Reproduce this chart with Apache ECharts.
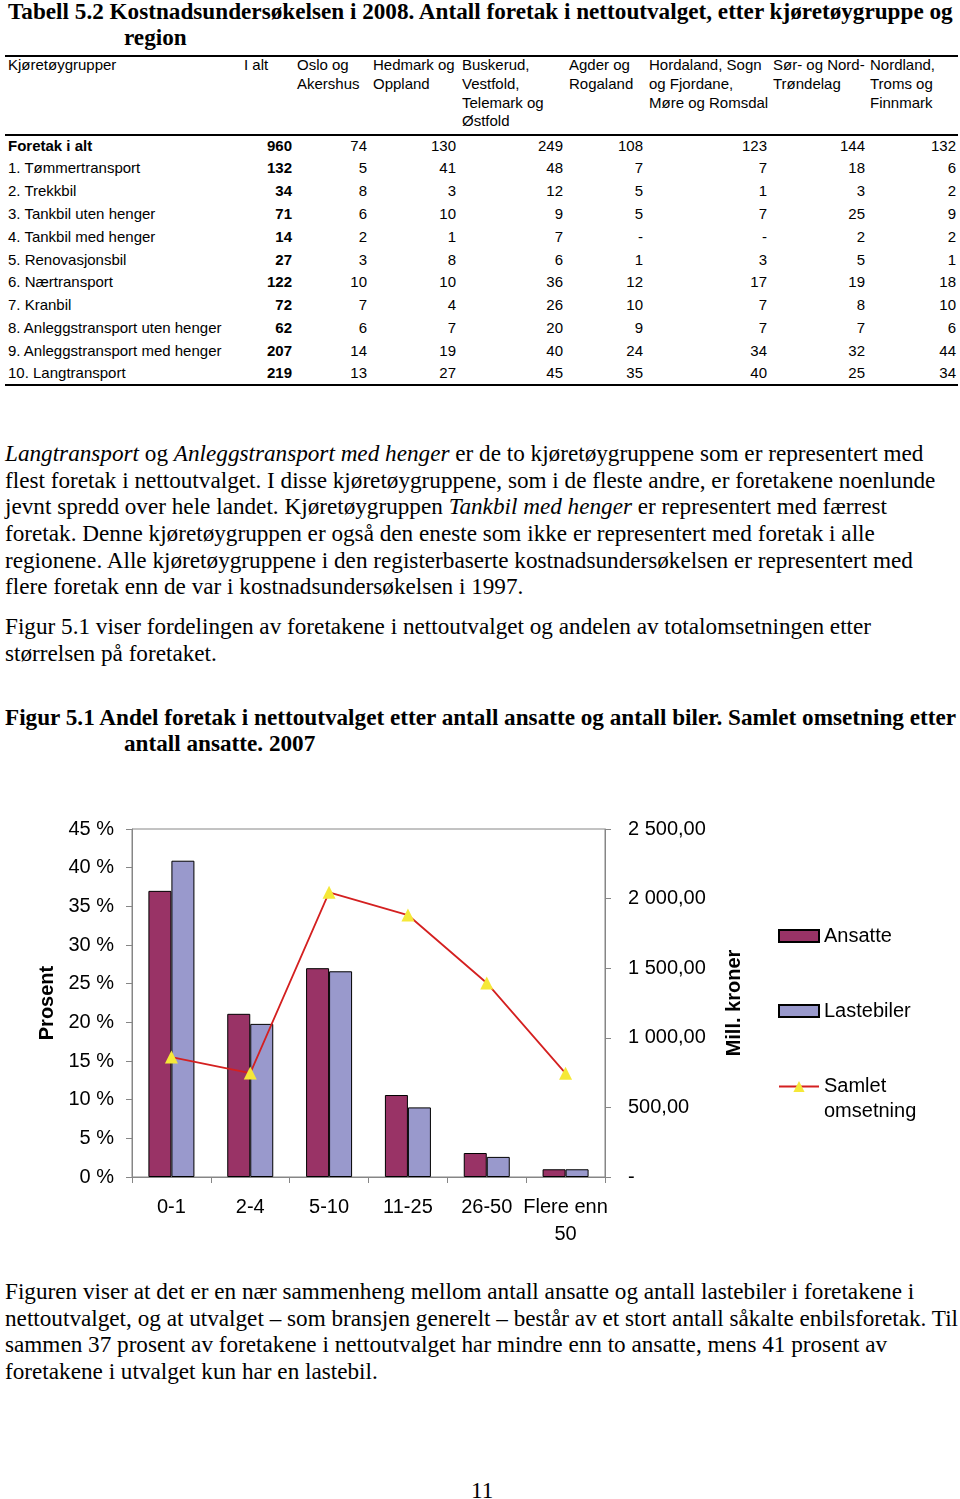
<!DOCTYPE html>
<html><head><meta charset="utf-8">
<script src="https://cdn.jsdelivr.net/npm/echarts@6/dist/echarts.min.js"></script>
<style>
html,body{margin:0;padding:0;background:#fff;}
body{width:960px;height:1499px;overflow:hidden;position:relative}
.serif{font-family:"Liberation Serif","Times New Roman",serif;color:#000;position:absolute;white-space:nowrap;font-size:23.2px;line-height:26px}
.bold{font-weight:bold}
.sans{font-family:"Liberation Sans",Arial,sans-serif;color:#000;position:absolute;white-space:nowrap;font-size:15px;line-height:18px}
.rule{position:absolute;left:5px;width:953px;height:2px;background:#000}
#chart{position:absolute;left:0;top:770px;width:960px;height:500px}
</style></head>
<body>
<div id="page"></div>
<div id="chart"></div>
<script>
// ---------- Table data ----------
const tableHeaders = [
  ["Kjøretøygrupper"],
  ["I alt"],
  ["Oslo og","Akershus"],
  ["Hedmark og","Oppland"],
  ["Buskerud,","Vestfold,","Telemark og","Østfold"],
  ["Agder og","Rogaland"],
  ["Hordaland, Sogn","og Fjordane,","Møre og Romsdal"],
  ["Sør- og Nord-","Trøndelag"],
  ["Nordland,","Troms og","Finnmark"]
];
const vehicleGroups = ["Foretak i alt","1. Tømmertransport","2. Trekkbil","3. Tankbil uten henger","4. Tankbil med henger","5. Renovasjonsbil","6. Nærtransport","7. Kranbil","8. Anleggstransport uten henger","9. Anleggstransport med henger","10. Langtransport"];
const totalCol = ["960","132","34","71","14","27","122","72","62","207","219"];
const osloAkershus = ["74","5","8","6","2","3","10","7","6","14","13"];
const hedmarkOppland = ["130","41","3","10","1","8","10","4","7","19","27"];
const buskerudEtc = ["249","48","12","9","7","6","36","26","20","40","45"];
const agderRogaland = ["108","7","5","5","-","1","12","10","9","24","35"];
const hordalandEtc = ["123","7","1","7","-","3","17","7","7","34","40"];
const trondelag = ["144","18","3","25","2","5","19","8","7","32","25"];
const nordNorge = ["132","6","2","9","2","1","18","10","6","44","34"];

// ---------- Chart data ----------
const sizeGroups = ["0-1","2-4","5-10","11-25","26-50","Flere enn\n50"];
const ansatte = [37.0, 21.1, 27.0, 10.6, 3.1, 1.0];
const lastebiler = [40.9, 19.8, 26.6, 9.0, 2.6, 1.0];
const omsetning = [862, 747, 2045, 1882, 1394, 745];

// ---------- Page layout ----------
const page = document.getElementById('page');
function addText(cls, html, left, centerY, lh, extra) {
  const d = document.createElement('div');
  d.className = cls;
  d.innerHTML = html;
  d.style.left = left + 'px';
  d.style.top = (centerY - lh / 2) + 'px';
  d.style.lineHeight = lh + 'px';
  if (extra) Object.assign(d.style, extra);
  page.appendChild(d);
  return d;
}
function addRule(y) {
  const r = document.createElement('div');
  r.className = 'rule';
  r.style.top = (y - 1) + 'px';
  page.appendChild(r);
}
// Title
addText('serif bold', 'Tabell 5.2 Kostnadsundersøkelsen i 2008. Antall foretak i nettoutvalget, etter kjøretøygruppe og', 8, 11, 26);
addText('serif bold', 'region', 124, 37, 26);
// Table
addRule(56); addRule(135); addRule(385);
const headerLeft = [8, 244, 297, 373, 462, 569, 649, 773, 870];
const headerLineY = [65, 84, 103, 121];
tableHeaders.forEach((lines, c) => lines.forEach((t, i) => addText('sans', t, headerLeft[c], headerLineY[i], 18)));
const rowY = [146, 168, 191, 214, 237, 260, 282, 305, 328, 351, 373];
const colRight = [292, 367, 456, 563, 643, 767, 865, 956];
const cols = [totalCol, osloAkershus, hedmarkOppland, buskerudEtc, agderRogaland, hordalandEtc, trondelag, nordNorge];
vehicleGroups.forEach((g, r) => {
  addText('sans' + (r === 0 ? ' bold' : ''), g, 8, rowY[r], 18);
  cols.forEach((col, c) => {
    const d = addText('sans' + ((c === 0) ? ' bold' : ''), col[r], 0, rowY[r], 18);
    d.style.left = 'auto';
    d.style.right = (960 - colRight[c]) + 'px';
  });
});
// Paragraphs
const para1 = [
  '<i>Langtransport</i> og <i>Anleggstransport med henger</i> er de to kjøretøygruppene som er representert med',
  'flest foretak i nettoutvalget. I disse kjøretøygruppene, som i de fleste andre, er foretakene noenlunde',
  'jevnt spredd over hele landet. Kjøretøygruppen <i>Tankbil med henger</i> er representert med færrest',
  'foretak. Denne kjøretøygruppen er også den eneste som ikke er representert med foretak i alle',
  'regionene. Alle kjøretøygruppene i den registerbaserte kostnadsundersøkelsen er representert med',
  'flere foretak enn de var i kostnadsundersøkelsen i 1997.'
];
const para1Y = [453, 480, 506, 533, 560, 586];
para1.forEach((t, i) => addText('serif', t, 5, para1Y[i], 26));
const para2 = ['Figur 5.1 viser fordelingen av foretakene i nettoutvalget og andelen av totalomsetningen etter', 'størrelsen på foretaket.'];
[626, 653].forEach((y, i) => addText('serif', para2[i], 5, y, 26));
addText('serif bold', 'Figur 5.1 Andel foretak i nettoutvalget etter antall ansatte og antall biler. Samlet omsetning etter', 5, 717, 26);
addText('serif bold', 'antall ansatte. 2007', 124, 743, 26);
const para3 = [
  'Figuren viser at det er en nær sammenheng mellom antall ansatte og antall lastebiler i foretakene i',
  'nettoutvalget, og at utvalget – som bransjen generelt – består av et stort antall såkalte enbilsforetak. Til',
  'sammen 37 prosent av foretakene i nettoutvalget har mindre enn to ansatte, mens 41 prosent av',
  'foretakene i utvalget kun har en lastebil.'
];
[1291, 1318, 1344, 1371].forEach((y, i) => addText('serif', para3[i], 5, y, 26));
addText('serif', '11', 471, 1490, 26);

// ---------- Chart ----------
function fmtKr(v) {
  if (v === 0) return '-';
  const s = v >= 1000 ? Math.floor(v / 1000) + ' ' + String(v % 1000).padStart(3, '0') : String(v);
  return s + ',00';
}
const axisGray = '#868686';
const chart = echarts.init(document.getElementById('chart'), null, {renderer: 'canvas'});
chart.setOption({
  animation: false,
  textStyle: {fontFamily: '"Liberation Sans", Arial, sans-serif'},
  grid: {left: 132, top: 59, width: 473, height: 348, show: true, borderColor: axisGray, borderWidth: 1, backgroundColor: 'transparent'},
  xAxis: {
    type: 'category', data: sizeGroups,
    axisLine: {lineStyle: {color: axisGray}},
    axisTick: {show: true, length: 6, lineStyle: {color: axisGray}},
    axisLabel: {color: '#000', fontSize: 20, margin: 17, lineHeight: 27, interval: 0}
  },
  yAxis: [{
    type: 'value', min: 0, max: 45, interval: 5, position: 'left',
    name: 'Prosent', nameLocation: 'middle', nameGap: 75, nameRotate: 90,
    nameTextStyle: {fontSize: 20, fontWeight: 'bold', color: '#000'},
    axisLine: {show: true, lineStyle: {color: axisGray}},
    axisTick: {show: true, length: 6, lineStyle: {color: axisGray}},
    splitLine: {show: false},
    axisLabel: {formatter: v => v + ' %', fontSize: 20, color: '#000', margin: 18}
  }, {
    type: 'value', min: 0, max: 2500, interval: 500, position: 'right',
    name: 'Mill. kroner', nameLocation: 'middle', nameGap: 119, nameRotate: 90,
    nameTextStyle: {fontSize: 20, fontWeight: 'bold', color: '#000'},
    axisLine: {show: true, lineStyle: {color: axisGray}},
    axisTick: {show: true, length: 6, lineStyle: {color: axisGray}},
    splitLine: {show: false},
    axisLabel: {formatter: fmtKr, fontSize: 20, color: '#000', margin: 23, align: 'left'}
  }],
  legend: [
    {orient: 'vertical', left: 778, top: 156, padding: 0, itemWidth: 40, itemHeight: 12, data: [{name: 'Ansatte', icon: 'rect'}], textStyle: {fontSize: 20, color: '#000'}},
    {orient: 'vertical', left: 778, top: 231, padding: 0, itemWidth: 40, itemHeight: 12, data: [{name: 'Lastebiler', icon: 'rect'}], textStyle: {fontSize: 20, color: '#000'}},
    {orient: 'vertical', left: 778, top: 279, padding: 0, itemWidth: 40, itemHeight: 14, data: ['Samlet omsetning'],
      formatter: () => ' \nSamlet\nomsetning', textStyle: {fontSize: 20, color: '#000', lineHeight: 25}}
  ],
  series: [
    {name: 'Ansatte', type: 'bar', data: ansatte, barWidth: 23, barGap: '0%',
      itemStyle: {color: '#993366', borderColor: '#000', borderWidth: 1}},
    {name: 'Lastebiler', type: 'bar', data: lastebiler, barWidth: 23, barGap: '0%',
      itemStyle: {color: '#9999CC', borderColor: '#000', borderWidth: 1}},
    {name: 'Samlet omsetning', type: 'line', yAxisIndex: 1, data: omsetning,
      symbol: 'triangle', symbolSize: 13,
      lineStyle: {color: '#D42020', width: 1.8},
      itemStyle: {color: '#F5E838', borderWidth: 0}}
  ]
});
</script>
</body></html>
